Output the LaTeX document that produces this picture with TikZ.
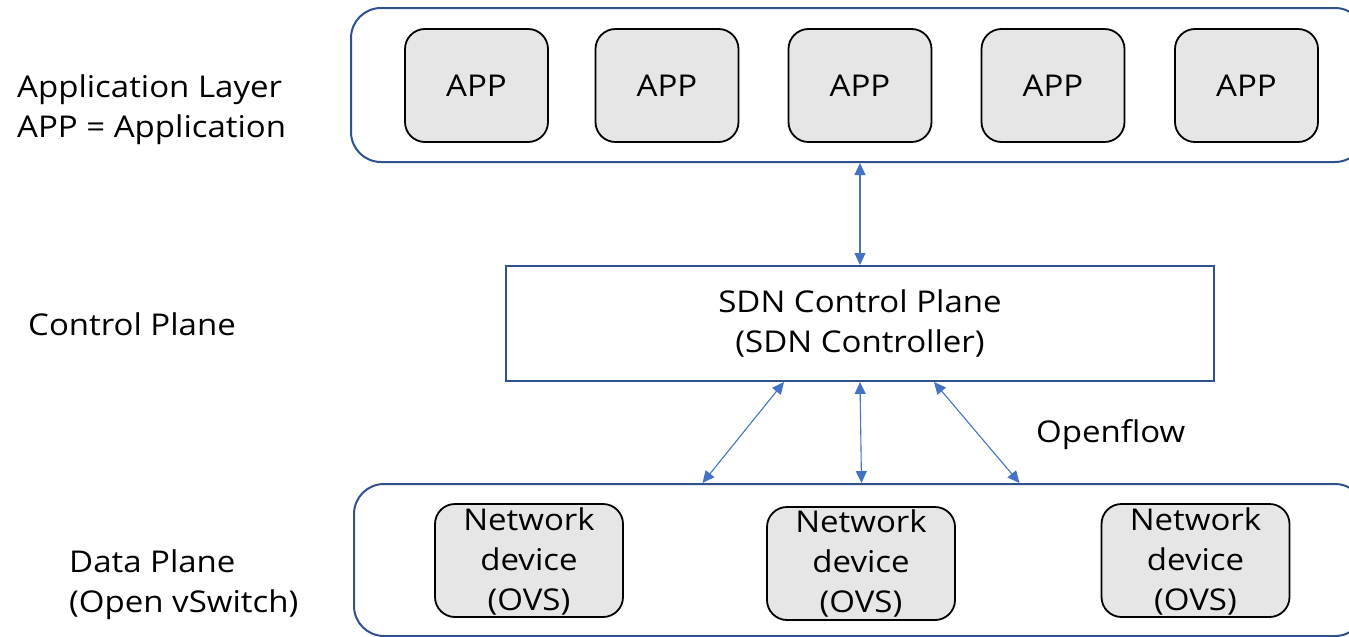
\documentclass[tikz,border=0pt]{standalone}
\usepackage{fontspec}
\setmainfont[FakeStretch=1.1]{Open Sans}
\usetikzlibrary{arrows.meta,calc}
\definecolor{frameblue}{HTML}{2F528F}
\definecolor{arrowblue}{HTML}{4472C4}
\definecolor{appgray}{HTML}{E6E6E6}
\tikzset{
  every node/.style={font=\fontsize{30}{40}\selectfont},
  layer/.style={draw=frameblue, line width=2pt, rounded corners=30pt, inner sep=0pt},
  appbox/.style={draw=black, line width=1.8pt, fill=appgray, rounded corners=20pt,
                 minimum width=143pt, minimum height=113pt, inner sep=0pt},
  devbox/.style={draw=black, line width=1.8pt, fill=appgray, rounded corners=20pt,
                 minimum width=188pt, minimum height=113pt, inner sep=0pt},
  ctrlbox/.style={draw=frameblue, line width=2pt, minimum width=708pt, minimum height=115pt,
                  inner sep=0pt, align=center},
  lbl/.style={anchor=base west, align=left, inner sep=0pt},
  devtext/.style={anchor=base, align=center, inner sep=0pt},
  link/.style={arrowblue, line width=1.1pt,
               {Triangle[length=12pt,width=11pt]}-{Triangle[length=12pt,width=11pt]}}
}
\begin{document}
\begin{tikzpicture}[x=1pt,y=-1pt]
\useasboundingbox (0,0) rectangle (1349,637);
\clip (0,0) rectangle (1349,637);
% layers
\node[layer, minimum width=1014pt, minimum height=154pt] (applayer) at (858,85) {};
\node[layer, minimum width=1011pt, minimum height=152pt] (dataplane) at (859.5,560) {};
% apps
\node[appbox] (app1) at (476.5,85.5) {APP};
\node[appbox] (app2) at (667,85.5) {APP};
\node[appbox] (app3) at (860,85.5) {APP};
\node[appbox] (app4) at (1053,85.5) {APP};
\node[appbox] (app5) at (1246.5,85.5) {APP};
% control plane
\node[ctrlbox] (ctrl) at (860,323.5) {SDN Control Plane\\(SDN Controller)};
% devices
\node[devbox] (dev1) at (529,560.5) {};
\node[devbox] (dev2) at (861,563.5) {};
\node[devbox] (dev3) at (1195.5,560.5) {};
\node[devtext] (dev1t) at ($(dev1.north)+(0,107)$) {Network\\device\\(OVS)};
\node[devtext] (dev2t) at ($(dev2.north)+(0,106)$) {Network\\device\\(OVS)};
\node[devtext] (dev3t) at ($(dev3.north)+(0,107)$) {Network\\device\\(OVS)};
% labels
\node[lbl] (applbl) at (17,137) {Application Layer\\APP = Application};
\node[lbl] (cplbl) at (28,335) {Control Plane};
\node[lbl] (dplbl) at (69,612) {Data Plane\\(Open vSwitch)};
\node[lbl] (oflbl) at (1036,442) {Openflow};
% connectors
\draw[link] (ctrl.north |- applayer.south) -- (ctrl.north);
\draw[link] ($(ctrl.south)+(-76,0)$) -- ($(dataplane.north)+(-157,0)$);
\draw[link] (ctrl.south) -- ($(dataplane.north)+(2,0)$);
\draw[link] ($(ctrl.south)+(74,0)$) -- ($(dataplane.north)+(160,0)$);
\end{tikzpicture}
\end{document}
